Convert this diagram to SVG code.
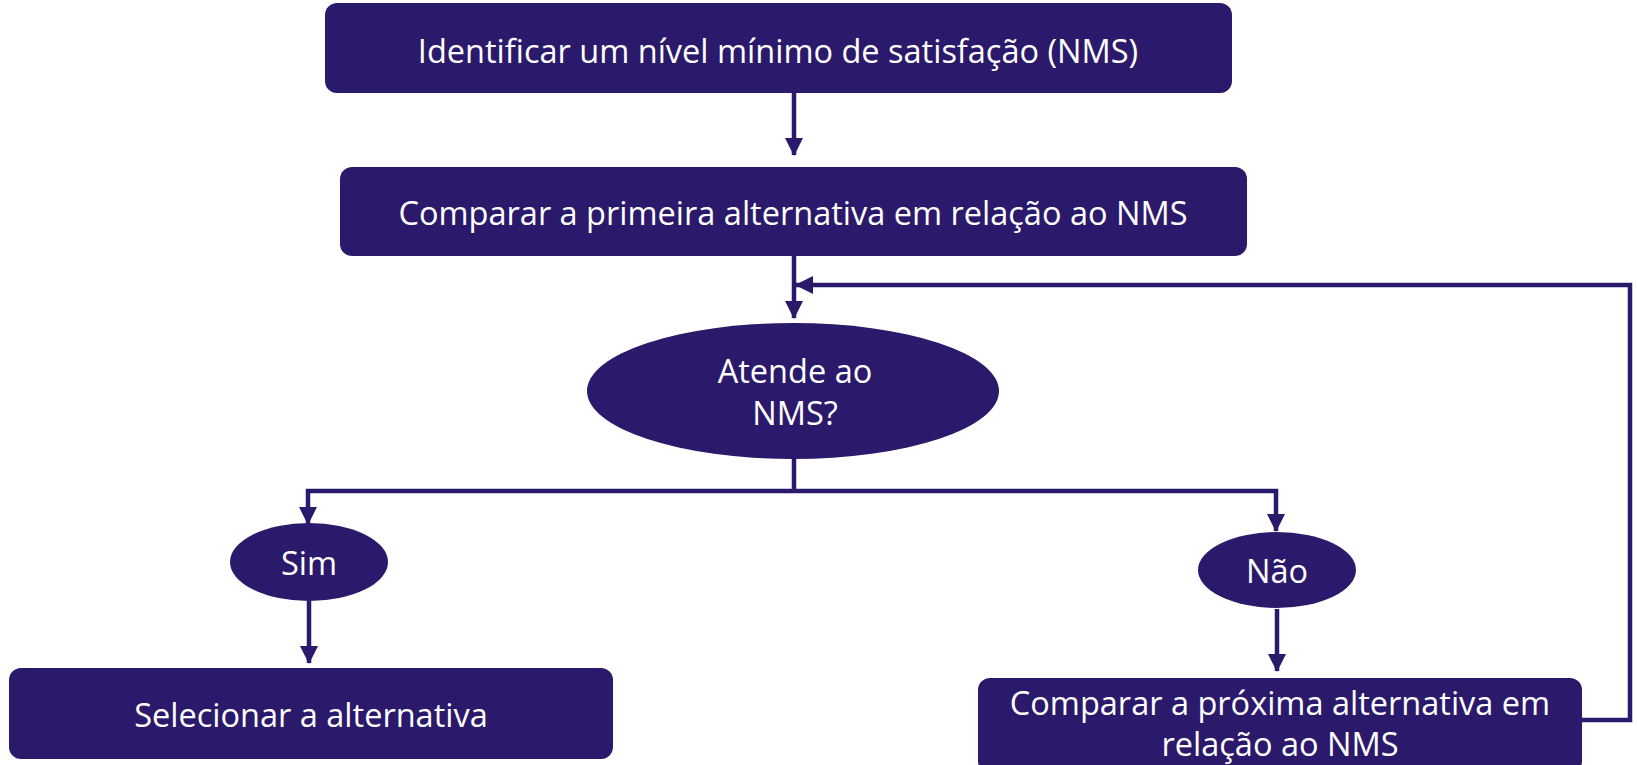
<svg xmlns="http://www.w3.org/2000/svg" width="1637" height="765" viewBox="0 0 1637 765">
<defs>
<style>
.box{fill:#2B1A6B;}
.t{fill:#ffffff;font-family:"Open Sans","Noto Sans",sans-serif;font-size:32.5px;text-anchor:middle;}
.c{fill:none;stroke:#2B1A6B;stroke-width:4.5;}
</style>
<marker id="ah" markerUnits="userSpaceOnUse" markerWidth="18" markerHeight="18" viewBox="0 0 18 18" refX="17" refY="9" orient="auto">
<path d="M0,0 L18,9 L0,18 Z" fill="#2B1A6B"/>
</marker>
</defs>
<rect width="1637" height="765" fill="#ffffff"/>
<g id="connectors">
<path class="c" d="M794,93 V155" marker-end="url(#ah)"/>
<path class="c" d="M794,256 V318" marker-end="url(#ah)"/>
<path class="c" d="M1582,720 H1630 V285 H796" marker-end="url(#ah)"/>
<path class="c" d="M794,459 V491"/>
<path class="c" d="M794,491 H308 V524" marker-end="url(#ah)"/>
<path class="c" d="M794,491 H1276 V531" marker-end="url(#ah)"/>
<path class="c" d="M309,601 V663" marker-end="url(#ah)"/>
<path class="c" d="M1277,609 V671" marker-end="url(#ah)"/>
</g>
<g id="n1">
<rect class="box" x="325" y="3" width="907" height="90" rx="12"/>
<text class="t" x="778" y="63">Identificar um nível mínimo de satisfação (NMS)</text>
</g>
<g id="n2">
<rect class="box" x="340" y="167" width="907" height="89" rx="12"/>
<text class="t" x="793" y="225">Comparar a primeira alternativa em relação ao NMS</text>
</g>
<g id="n3">
<ellipse class="box" cx="793" cy="391" rx="206" ry="68"/>
<text class="t" x="795" y="383">Atende ao</text>
<text class="t" x="795" y="425">NMS?</text>
</g>
<g id="n4">
<ellipse class="box" cx="309" cy="562" rx="79" ry="39"/>
<text class="t" x="309" y="575">Sim</text>
</g>
<g id="n5">
<ellipse class="box" cx="1277" cy="570" rx="79" ry="38"/>
<text class="t" x="1277" y="583">Não</text>
</g>
<g id="n6">
<rect class="box" x="9" y="668" width="604" height="91" rx="12"/>
<text class="t" x="311" y="727">Selecionar a alternativa</text>
</g>
<g id="n7">
<rect class="box" x="978" y="678" width="604" height="95" rx="12"/>
<text class="t" x="1280" y="715">Comparar a próxima alternativa em</text>
<text class="t" x="1280" y="756">relação ao NMS</text>
</g>
</svg>
